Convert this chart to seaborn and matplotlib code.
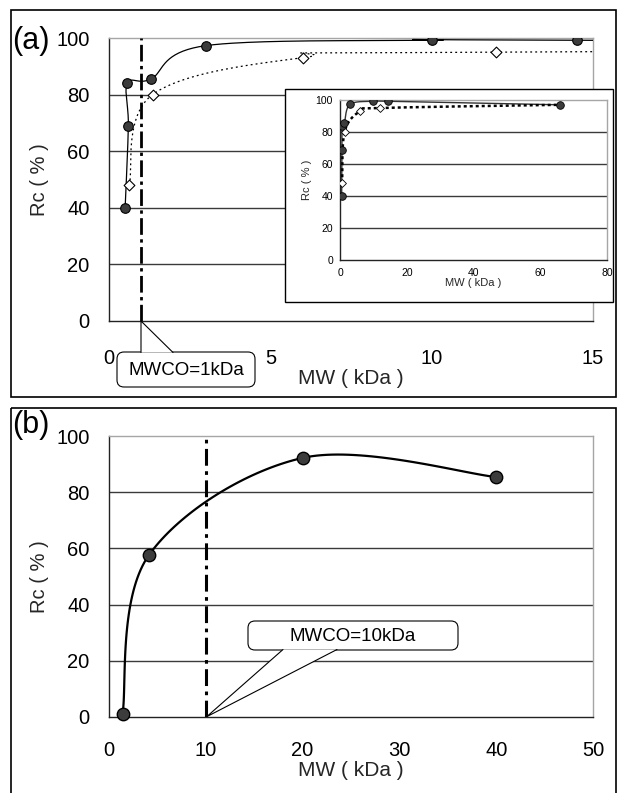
import numpy as np
import pandas as pd
import matplotlib
matplotlib.use("Agg")
import matplotlib.pyplot as plt
import seaborn as sns
from matplotlib.patches import Rectangle, FancyBboxPatch, Polygon

# ---- data -------------------------------------------------------------
# (a) membrane with MWCO = 1 kDa
a_mw_solid = [0.5, 0.6, 0.57, 1.3, 3.0, 10.0, 14.5, 66.0]
a_rc_solid = [40.0, 69.0, 84.0, 85.5, 97.3, 99.2, 99.2, 97.0]
a_mw_open = [0.63, 1.35, 6.0, 12.0, 66.0]
a_rc_open = [48.0, 80.0, 93.0, 95.0, 97.0]
a_cutoff = 1

# (b) membrane with MWCO = 10 kDa
b_mw = [1.4, 4.1, 20.0, 40.0]
b_rc = [1.2, 57.5, 92.2, 85.4]
b_cutoff = 10

a_xticks = [0, 5, 10, 15]
inset_xticks = [0, 20, 40, 60, 80]
b_xticks = [0, 10, 20, 30, 40, 50]
rc_ticks = [0, 20, 40, 60, 80, 100]

X_LABEL = "MW ( kDa )"
Y_LABEL = "Rc ( % )"

# ---- style ------------------------------------------------------------
sns.set_theme(style="white")
plt.rcParams["font.family"] = ["Liberation Sans", "Noto Sans CJK JP", "DejaVu Sans"]

W, H = 618, 793
fig = plt.figure(figsize=(W / 100, H / 100), dpi=100)
fig.patch.set_facecolor("white")

GRID = "#3a3a3a"
FRAME = "#a6a6a6"
DOT_FILL = "#3c3c3c"


def px_axes(x0, y0, x1, y1, **kw):
    """Add axes given a pixel box (top-left origin)."""
    return fig.add_axes([x0 / W, 1 - y1 / H, (x1 - x0) / W, (y1 - y0) / H], **kw)


def smooth(ax, xs, ys, n=40):
    """Bezier smoothing through the points, computed in screen space."""
    pts = ax.transData.transform(np.column_stack([xs, ys]))
    P = np.vstack([pts[0], pts, pts[-1]])
    t = np.linspace(0, 1, n)[:, None]
    segs = []
    for i in range(1, len(P) - 2):
        p0, p1, p2, p3 = P[i - 1], P[i], P[i + 1], P[i + 2]
        c1 = p1 + (p2 - p0) / 6
        c2 = p2 - (p3 - p1) / 6
        seg = (1 - t) ** 3 * p1 + 3 * (1 - t) ** 2 * t * c1 + 3 * (1 - t) * t ** 2 * c2 + t ** 3 * p2
        segs.append(seg if i == 1 else seg[1:])
    d = ax.transData.inverted().transform(np.vstack(segs))
    return pd.DataFrame({"x": d[:, 0], "y": d[:, 1]})


def style_axes(ax, xlim, xticks, tick_fs, xpad, ypad, ticklen, spine_lw=1.0, grid_lw=1.0):
    ax.set_xlim(*xlim)
    ax.set_ylim(0, 100)
    ax.set_xticks(xticks)
    ax.set_yticks(rc_ticks)
    ax.set_facecolor("white")
    for y in rc_ticks[1:-1]:
        ax.axhline(y, color=GRID, lw=grid_lw, zorder=1)
    for s in ["left", "bottom"]:
        ax.spines[s].set_color("#222222")
        ax.spines[s].set_linewidth(spine_lw)
    for s in ["top", "right"]:
        ax.spines[s].set_color(FRAME)
        ax.spines[s].set_linewidth(spine_lw)
    ax.tick_params(axis="x", direction="in", length=ticklen, width=0.8, color="#222222",
                   pad=xpad, labelsize=tick_fs, labelcolor="black")
    ax.tick_params(axis="y", length=0, pad=ypad, labelsize=tick_fs, labelcolor="black")
    ax.grid(False)


# ---- panel (a) main ---------------------------------------------------
axA = px_axes(109, 38, 593, 321)
style_axes(axA, (0, 15), a_xticks, 14.5, 20, 14, 6.5)
axA.xaxis.get_ticklines()[0].set_visible(False)

cs = smooth(axA, a_mw_solid, a_rc_solid)
co = smooth(axA, a_mw_open, a_rc_open)
sns.lineplot(data=cs, x="x", y="y", sort=False, estimator=None, ax=axA,
             color="black", lw=0.9, zorder=3)
sns.lineplot(data=co, x="x", y="y", sort=False, estimator=None, ax=axA,
             color="black", lw=0.9, ls=(0, (1.5, 2.5)), zorder=3)
sns.scatterplot(x=a_mw_solid, y=a_rc_solid, ax=axA, marker="o", s=48,
                color=DOT_FILL, edgecolor="black", linewidth=0.8, zorder=5)
sns.scatterplot(x=a_mw_open, y=a_rc_open, ax=axA, marker="D", s=30,
                color="white", edgecolor="black", linewidth=0.8, zorder=5)
axA.axvline(a_cutoff, color="black", lw=2.0, ls=(0, (6, 1.6, 1.2, 1.6)), zorder=4)
axA.set_xlabel(X_LABEL, fontsize=15, labelpad=1)
axA.set_ylabel(Y_LABEL, fontsize=14.5, labelpad=5)

# ---- panel (a) inset --------------------------------------------------
axI = px_axes(340, 100, 607, 260)
style_axes(axI, (0, 80), inset_xticks, 7.5, 6, 5, 3.5, spine_lw=1.0, grid_lw=1.0)
axI.xaxis.get_ticklines()[0].set_visible(False)
axI.xaxis.get_ticklines()[-2].set_visible(False)
ics = smooth(axI, a_mw_solid, a_rc_solid)
ico = smooth(axI, a_mw_open, a_rc_open)
sns.lineplot(data=ics, x="x", y="y", sort=False, estimator=None, ax=axI,
             color="#333333", lw=1.0, zorder=3)
sns.lineplot(data=ico, x="x", y="y", sort=False, estimator=None, ax=axI,
             color="black", lw=1.8, ls=(0, (1.2, 1.2)), zorder=3)
sns.scatterplot(x=a_mw_solid, y=a_rc_solid, ax=axI, marker="o", s=30,
                color=DOT_FILL, edgecolor="black", linewidth=0.6, zorder=5)
sns.scatterplot(x=a_mw_open[:-1], y=a_rc_open[:-1], ax=axI, marker="D", s=16,
                color="white", edgecolor="black", linewidth=0.6, zorder=5)
axI.set_xlabel(X_LABEL, fontsize=8, labelpad=0)
axI.set_ylabel(Y_LABEL, fontsize=8, labelpad=3)

# ---- panel (b) --------------------------------------------------------
axB = px_axes(109, 436, 593, 717)
style_axes(axB, (0, 50), b_xticks, 14.5, 17, 14, 6.5)
axB.xaxis.get_ticklines()[0].set_visible(False)
axB.xaxis.get_ticklines()[-2].set_visible(False)
cb = smooth(axB, b_mw, b_rc)
sns.lineplot(data=cb, x="x", y="y", sort=False, estimator=None, ax=axB,
             color="black", lw=1.6, zorder=3)
sns.scatterplot(x=b_mw, y=b_rc, ax=axB, marker="o", s=80,
                color=DOT_FILL, edgecolor="black", linewidth=1.0, zorder=5, clip_on=False)
axB.axvline(b_cutoff, color="black", lw=2.2, ls=(0, (5.5, 1.8, 1.2, 1.8)), zorder=4)
axB.set_xlabel(X_LABEL, fontsize=15, labelpad=1)
axB.set_ylabel(Y_LABEL, fontsize=14.5, labelpad=5)

# ---- overlay: frames, inset box, callouts, panel letters --------------
ov = fig.add_axes([0, 0, 1, 1], zorder=10)
ov.set_xlim(0, W)
ov.set_ylim(H, 0)
ov.axis("off")
ov.patch.set_alpha(0)

ov.add_patch(Rectangle((11, 10), 605, 387, fill=False, ec="black", lw=1.2))
ov.add_patch(Rectangle((11, 408), 605, 400, fill=False, ec="black", lw=1.2, clip_on=True))

# inset frame drawn under the inset axes
frame = Rectangle((285, 89), 328, 213, fc="white", ec="black", lw=1.0,
                  transform=ov.transData, zorder=2.5)
fig.patches.append(frame)
axI.set_zorder(3)


def callout(box, base, tip, label, fs):
    x0, y0, x1, y1 = box
    ov.add_patch(FancyBboxPatch((x0, y0), x1 - x0, y1 - y0,
                                boxstyle="round,pad=0,rounding_size=7",
                                fc="white", ec="black", lw=0.8))
    (bx0, by0), (bx1, by1) = base
    ov.add_patch(Polygon([(bx0, by0), tip, (bx1, by1)], closed=True,
                         fc="white", ec="none"))
    ov.plot([bx0, tip[0], bx1], [by0, tip[1], by1], color="black", lw=0.8,
            solid_joinstyle="miter")
    ov.text((x0 + x1) / 2, (y0 + y1) / 2 + 1, label, ha="center", va="center",
            fontsize=fs, color="black")


callout((117, 352, 255, 387), [(141, 352.5), (173, 352.5)], (141, 321), "MWCO=1kDa", 13.5)
callout((248, 621, 458, 650), [(283, 649.5), (337, 649.5)], (206.7, 716.7), "MWCO=10kDa", 13.5)

ov.text(12, 41, "(a)", fontsize=22, va="center", ha="left", color="black")
ov.text(12, 425, "(b)", fontsize=22, va="center", ha="left", color="black")

fig.savefig("out.png", dpi=100, facecolor="white")
